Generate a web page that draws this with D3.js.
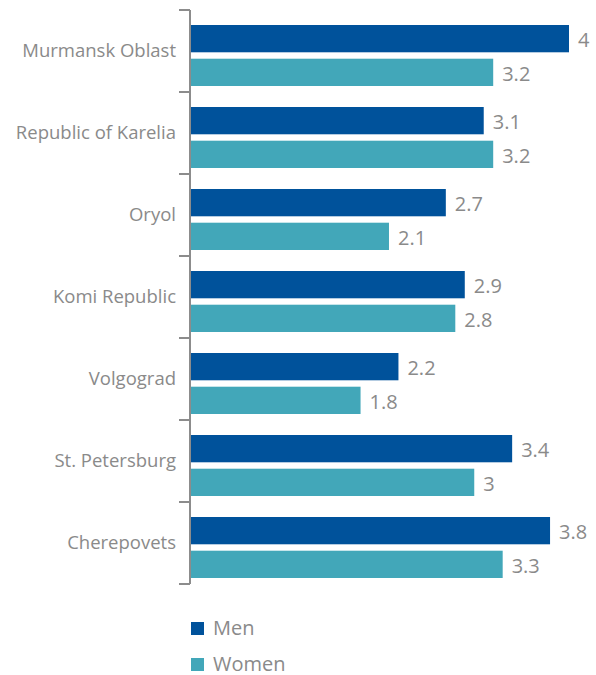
<!DOCTYPE html>
<html>
<head>
<meta charset="utf-8">
<script src="https://cdn.jsdelivr.net/npm/d3@7"></script>
<style>
  body { margin: 0; background: #fff; }
  svg { display: block; }
</style>
</head>
<body>
<svg width="596" height="675"></svg>
<script>
const regions = ["Murmansk Oblast", "Republic of Karelia", "Oryol", "Komi Republic", "Volgograd", "St. Petersburg", "Cherepovets"];
const men = [4, 3.1, 2.7, 2.9, 2.2, 3.4, 3.8];
const women = [3.2, 3.2, 2.1, 2.8, 1.8, 3, 3.3];
const seriesNames = ["Men", "Women"];
const colors = ["#00529b", "#42a7b9"];

const svg = d3.select("svg")
    .attr("font-family", "'Open Sans', sans-serif");

const x0 = 190, yTop = 10, yBottom = 584;

const y = d3.scaleBand()
    .domain(regions)
    .range([yTop, yBottom]);

const ySub = d3.scaleBand()
    .domain(seriesNames)
    .range([15, 76])
    .paddingInner(0.19);

const x = d3.scaleLinear()
    .domain([0, 4])
    .range([x0, 569]);

const rows = regions.map((r, i) => ({region: r, values: [men[i], women[i]]}));

const g = svg.append("g")
  .selectAll("g")
  .data(rows)
  .join("g")
    .attr("transform", d => `translate(0,${y(d.region)})`);

g.selectAll("rect")
  .data(d => d.values.map((v, j) => ({key: seriesNames[j], value: v, color: colors[j]})))
  .join("rect")
    .attr("x", x0)
    .attr("y", d => ySub(d.key))
    .attr("width", d => x(d.value) - x0)
    .attr("height", ySub.bandwidth())
    .attr("fill", d => d.color);

g.selectAll("text.val")
  .data(d => d.values.map((v, j) => ({key: seriesNames[j], value: v})))
  .join("text")
    .attr("class", "val")
    .attr("x", d => x(d.value) + 9)
    .attr("y", d => ySub(d.key) + ySub.bandwidth() / 2 + 1)
    .attr("dy", "0.36em")
    .attr("font-size", 20)
    .attr("fill", "#8a8a8a")
    .text(d => d.value);

// left axis with ticks at band boundaries
const axis = svg.append("g").attr("stroke", "#8c8c8c").attr("stroke-width", 2);
axis.append("line")
    .attr("x1", x0).attr("x2", x0)
    .attr("y1", yTop).attr("y2", yBottom);
axis.selectAll("line.tick")
  .data(regions.map(r => y(r)).concat([yBottom]))
  .join("line")
    .attr("class", "tick")
    .attr("x1", 179).attr("x2", x0)
    .attr("y1", d => d).attr("y2", d => d);

svg.append("g")
  .selectAll("text")
  .data(regions)
  .join("text")
    .attr("x", 176)
    .attr("y", d => y(d) + y.bandwidth() / 2 - 1)
    .attr("dy", "0.36em")
    .attr("text-anchor", "end")
    .attr("font-size", 18.5)
    .attr("fill", "#8a8a8a")
    .text(d => d);

// legend
const legend = svg.append("g")
  .selectAll("g")
  .data(seriesNames)
  .join("g")
    .attr("transform", (d, i) => `translate(191,${622 + i * 36})`);

legend.append("rect")
    .attr("width", 13)
    .attr("height", 13)
    .attr("fill", (d, i) => colors[i]);

legend.append("text")
    .attr("x", 22)
    .attr("y", 6)
    .attr("dy", "0.36em")
    .attr("font-size", 20)
    .attr("fill", "#8a8a8a")
    .text(d => d);
</script>
</body>
</html>
